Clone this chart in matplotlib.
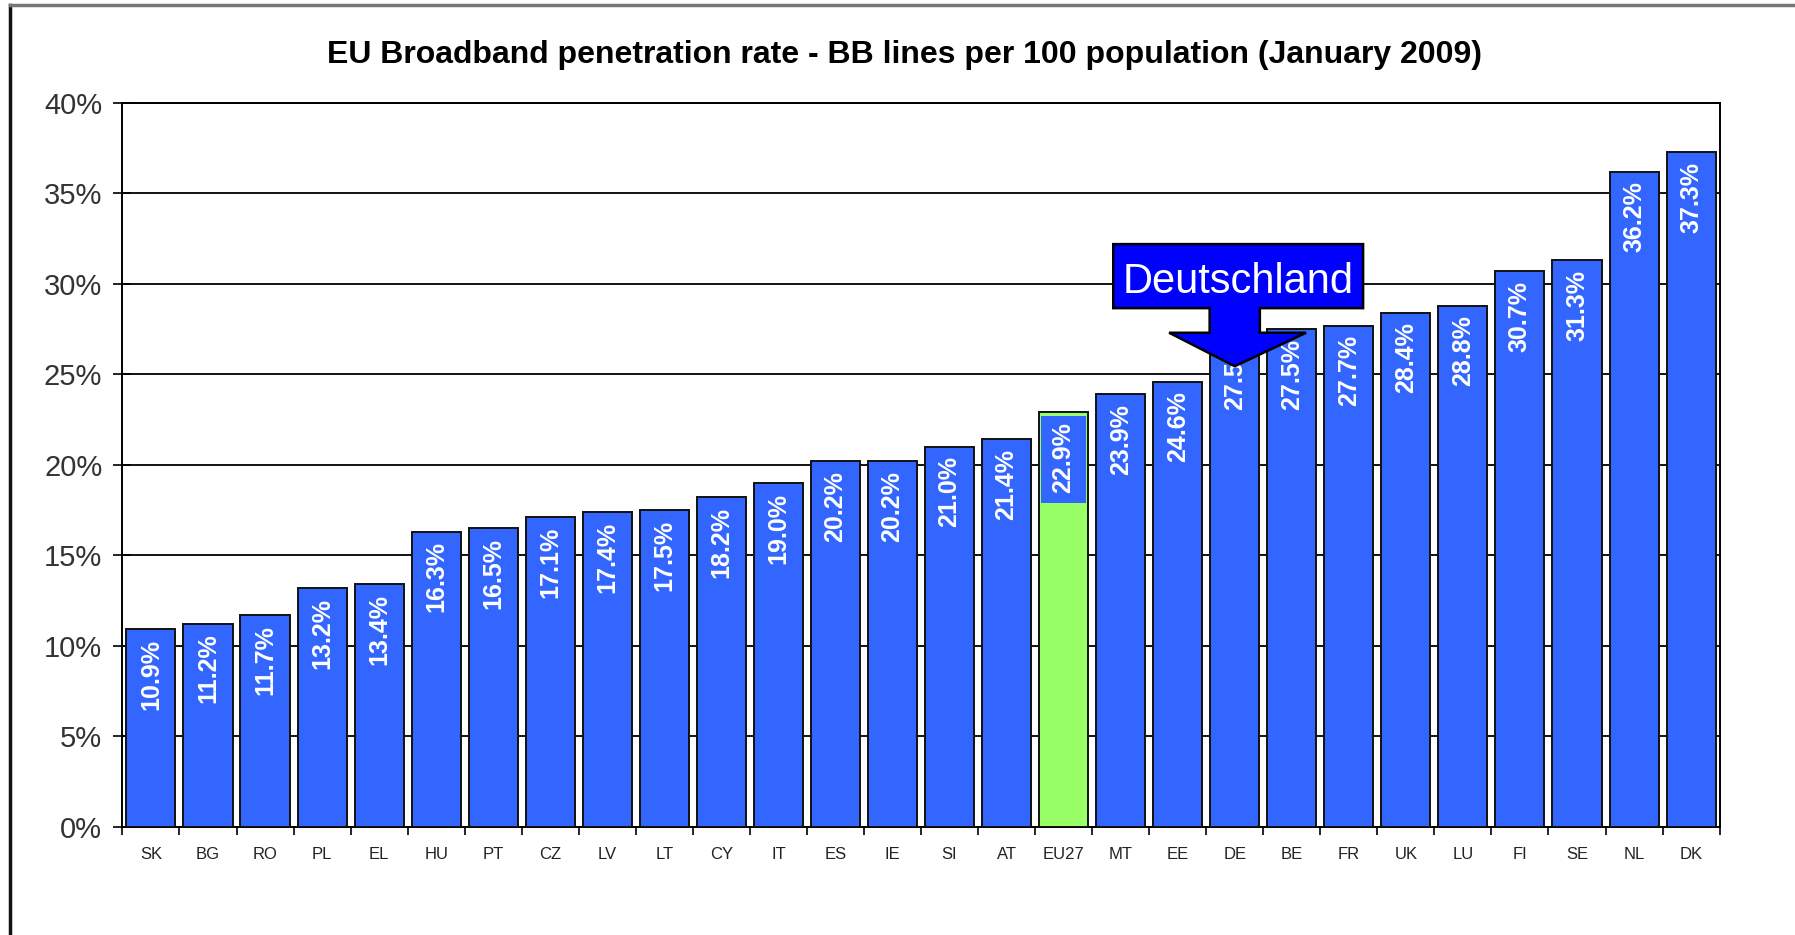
import matplotlib
matplotlib.use("Agg")
import matplotlib.pyplot as plt
from matplotlib.patches import Polygon
from matplotlib.lines import Line2D
from matplotlib.ticker import FixedLocator, FuncFormatter

countries = ["SK", "BG", "RO", "PL", "EL", "HU", "PT", "CZ", "LV", "LT", "CY", "IT",
             "ES", "IE", "SI", "AT", "EU27", "MT", "EE", "DE", "BE", "FR", "UK", "LU",
             "FI", "SE", "NL", "DK"]
values = [10.9, 11.2, 11.7, 13.2, 13.4, 16.3, 16.5, 17.1, 17.4, 17.5, 18.2, 19.0,
          20.2, 20.2, 21.0, 21.4, 22.9, 23.9, 24.6, 27.5, 27.5, 27.7, 28.4, 28.8,
          30.7, 31.3, 36.2, 37.3]
y_ticks = [0, 5, 10, 15, 20, 25, 30, 35, 40]
title = "EU Broadband penetration rate - BB lines per 100 population (January 2009)"
highlight = "EU27"
callout_country = "DE"
callout_text = "Deutschland"

BLUE = "#3366FF"
GREEN = "#99FF66"

plt.rcParams['font.family'] = ['Liberation Sans', 'DejaVu Sans']

fig = plt.figure(figsize=(17.95, 9.35), dpi=100)
ax = fig.add_axes([0.0682, 0.116, 0.958 - 0.0682, 0.8898 - 0.116])

x = list(range(len(countries)))
colors = [GREEN if c == highlight else BLUE for c in countries]
ax.bar(x, values, width=0.86, color=colors, edgecolor="#111111", linewidth=1.4, zorder=3)

# blue label box on highlighted bar
hi = countries.index(highlight)
box_len = 5.0
ax.bar([hi], [box_len - 0.2], bottom=[values[hi] - box_len], width=0.8,
       color=BLUE, linewidth=0, zorder=4)

for xi, v in zip(x, values):
    ax.annotate(f"{v:.1f}%", xy=(xi, v), xytext=(0, -7), textcoords="offset points",
                rotation=90, ha="center", va="top", color="white",
                fontsize=18, fontweight="bold", zorder=6)

ax.set_xlim(-0.5, len(countries) - 0.5)
ax.set_ylim(0, 40)
ax.yaxis.set_major_locator(FixedLocator(y_ticks))
ax.yaxis.set_major_formatter(FuncFormatter(lambda v, p: f"{int(v)}%"))
ax.yaxis.grid(True, color="black", linewidth=1.3, zorder=0)
ax.set_axisbelow(True)
ax.tick_params(axis="y", direction="inout", length=13, width=1.2, labelsize=21,
               labelcolor="#333333", pad=8)

ax.set_xticks(x)
ax.set_xticklabels(countries, fontsize=12, family=['Liberation Sans Narrow', 'Liberation Sans'],
                   color="#222222")
ax.tick_params(axis="x", length=0, pad=15)
ax.set_xticks([i - 0.5 for i in range(len(countries) + 1)], minor=True)
ax.tick_params(axis="x", which="minor", direction="out", length=6, width=1.2)

for s in ax.spines.values():
    s.set_linewidth(1.4)
    s.set_color("black")

fig.text(0.504, 0.941, title, ha="center", va="center", fontsize=23, fontweight="bold")

# Deutschland callout arrow (data coords: category units / percent)
di = countries.index(callout_country)
box_top, box_bot, stem_bot, tip = 32.2, 28.66, 27.3, 25.45
arrow = Polygon([
    (di - 2.13, box_top), (di + 2.25, box_top), (di + 2.25, box_bot),
    (di + 0.44, box_bot), (di + 0.44, stem_bot), (di + 1.25, stem_bot),
    (di, tip), (di - 1.15, stem_bot), (di - 0.44, stem_bot),
    (di - 0.44, box_bot), (di - 2.13, box_bot)],
    closed=True, facecolor="#0000FF", edgecolor="black", linewidth=1.8, zorder=8)
ax.add_patch(arrow)
ax.text(di + 0.06, (box_top + box_bot) / 2 - 0.3, callout_text, ha="center", va="center",
        color="white", fontsize=30, zorder=9)

# page frame lines
fig.add_artist(Line2D([10 / 1795, 10 / 1795], [1 - 5 / 935, 0], transform=fig.transFigure,
                      color="#111111", linewidth=2.5))
fig.add_artist(Line2D([10 / 1795, 1], [1 - 5 / 935, 1 - 5 / 935], transform=fig.transFigure,
                      color="#777777", linewidth=2.5))

fig.savefig("out.png", dpi=100)
